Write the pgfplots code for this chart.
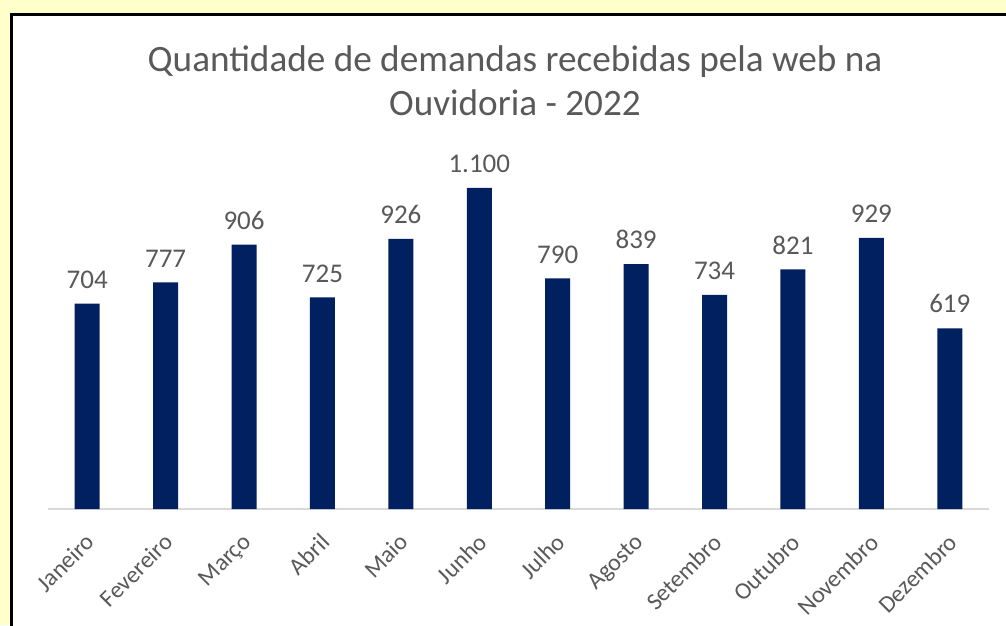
\documentclass[border=0pt]{standalone}
\usepackage{pgfplots}
\pgfplotsset{compat=1.18}
\usepackage{fontspec}
\setmainfont{Carlito}

\definecolor{bg}{HTML}{FFFFCC}
\definecolor{navy}{HTML}{002060}
\definecolor{txt}{HTML}{595959}
\definecolor{axisgray}{HTML}{D9D9D9}

\begin{document}
\begin{tikzpicture}
\useasboundingbox (0,0) rectangle (1006pt,-625pt);
\clip (0,0) rectangle (1006pt,-625pt);
\fill[bg] (0,0) rectangle (1006pt,-625pt);
\filldraw[fill=white, draw=black, line width=3pt] (11.5pt,-14pt) rectangle (1030pt,-650pt);

% title, one node per line
\node[text=txt, font=\fontsize{37.2}{44}\selectfont, anchor=base]
  at (515pt,-71pt) {Quantidade de demandas recebidas pela web na};
\node[text=txt, font=\fontsize{37.2}{44}\selectfont, anchor=base]
  at (515pt,-115pt) {Ouvidoria - 2022};

\begin{axis}[
  at={(48pt,-509pt)}, anchor=south west,
  scale only axis,
  width=941pt, height=350.2pt,
  xmin=-0.5, xmax=11.5,
  ymin=0, ymax=1200,
  axis y line=none,
  axis x line*=bottom,
  x axis line style={draw=axisgray, line width=1.5pt, -},
  xtick=data,
  major tick length=0pt,
  xticklabels={Janeiro,Fevereiro,Março,Abril,Maio,Junho,Julho,Agosto,Setembro,Outubro,Novembro,Dezembro},
  xticklabel style={xshift=-3pt, yshift=-23pt, rotate=45, anchor=north east, text=txt,
    font=\fontsize{24}{28}\selectfont, inner sep=0pt},
  clip=false,
  ybar, bar width=25pt, bar shift=0pt,
  nodes near coords,
  /pgf/number format/use comma,
  /pgf/number format/assume math mode=true,
  every node near coord/.append style={text=txt, font=\fontsize{27}{31}\selectfont,
    anchor=south, inner sep=0pt, yshift=15pt},
]
\addplot[fill=navy, draw=none] coordinates {
(0,704) (1,777) (2,906) (3,725) (4,926) (5,1100)
(6,790) (7,839) (8,734) (9,821) (10,929) (11,619)
};
\end{axis}
\end{tikzpicture}
\end{document}
